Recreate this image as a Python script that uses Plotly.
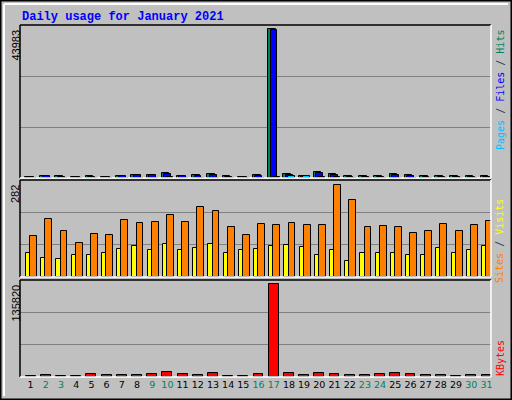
import plotly.graph_objects as go

days = list(range(1, 32))
weekend = [2, 3, 9, 10, 16, 17, 23, 24, 30, 31]

# values
hits = [300, 600, 600, 300, 600, 300, 600, 900, 900, 1500, 600, 900, 1200, 600, 300,
        900, 43983, 1200, 600, 1800, 1200, 600, 600, 600, 1200, 900, 600, 600, 600, 600, 600]
files = [200, 450, 350, 200, 400, 200, 450, 750, 750, 1200, 450, 700, 1000, 400, 200,
         700, 43800, 900, 450, 1500, 900, 400, 400, 400, 1000, 700, 400, 400, 400, 400, 400]
pages = [60, 100, 80, 60, 90, 60, 100, 120, 120, 150, 100, 110, 130, 80, 60,
         110, 400, 700, 600, 200, 150, 90, 90, 90, 130, 110, 90, 90, 90, 90, 90]
visits = [124, 176, 142, 103, 130, 127, 173, 164, 167, 188, 167, 213, 201, 152, 127,
          161, 158, 164, 158, 158, 282, 236, 152, 155, 152, 134, 140, 161, 142, 158, 170]
sites = [72, 59, 56, 68, 68, 74, 87, 96, 84, 102, 81, 90, 102, 72, 84,
         87, 96, 99, 93, 66, 81, 50, 72, 74, 74, 66, 68, 90, 74, 84, 96]
kbytes = [1500, 3000, 1500, 1500, 4500, 3000, 3000, 3000, 4500, 7500, 4500, 3000, 6000, 1500, 1500,
          4500, 135820, 6000, 3000, 6000, 4500, 3000, 3000, 4500, 6000, 4500, 3000, 3000, 1500, 3000, 3000]

def py(p):
    return 1 - p / 400

dom_top = [py(178), py(25)]
dom_mid = [py(277), py(180)]
dom_bot = [py(377), py(280)]

fig = go.Figure()
ol = dict(color="black", width=1)

def bars(vals, off, w, color, ax):
    fig.add_trace(go.Bar(x=[d + off for d in days], y=vals, width=w,
                         marker=dict(color=color, line=ol),
                         xaxis="x" + ax, yaxis="y" + ax, hoverinfo="y"))

bars(hits, -0.12, 0.5, "#00805c", "")
bars(files, 0.02, 0.45, "#0000ff", "")
bars(pages, 0.16, 0.45, "#00c0ff", "")
bars(sites, -0.15, 0.3, "#ffff00", "2")
bars(visits, 0.2, 0.45, "#ff8000", "2")
bars(kbytes, 0.0, 0.65, "#ff0000", "3")

R1 = 43983 * 153 / 149
R2 = 282 * 97 / 92.3
R3 = 135820 * 97 / 92.7

xr = [0.3, 31.3]
xd = [20 / 512, 491 / 512]
ax_common = dict(showgrid=False, zeroline=False, showline=False, fixedrange=True)
tick_text = ["<span style='color:%s'>%d</span>" % ("#00805c" if d in weekend else "black", d)
             for d in days]

fig.update_layout(
    width=512, height=400, margin=dict(l=0, r=0, t=0, b=0),
    paper_bgcolor="#c0c0c0", plot_bgcolor="#c0c0c0",
    barmode="overlay", showlegend=False, bargap=0,
    xaxis=dict(domain=xd, range=xr, anchor="y", showticklabels=False, **ax_common),
    xaxis2=dict(domain=xd, range=xr, anchor="y2", showticklabels=False, **ax_common),
    xaxis3=dict(domain=xd, range=xr, anchor="y3", tickvals=days, ticktext=tick_text,
                tickfont=dict(family="DejaVu Sans", size=9.5), ticks="", **ax_common),
    yaxis=dict(domain=dom_top, range=[0, R1], tickvals=[R1 / 3, 2 * R1 / 3], showticklabels=False,
               showgrid=True, gridcolor="#808080", zeroline=False, fixedrange=True),
    yaxis2=dict(domain=dom_mid, range=[0, R2], tickvals=[R2 / 3, 2 * R2 / 3], showticklabels=False,
                showgrid=True, gridcolor="#808080", zeroline=False, fixedrange=True),
    yaxis3=dict(domain=dom_bot, range=[0, R3], tickvals=[R3 / 3, 2 * R3 / 3], showticklabels=False,
                showgrid=True, gridcolor="#808080", zeroline=False, fixedrange=True),
)

shapes = []
# outer frame
shapes.append(dict(type="rect", xref="paper", yref="paper", x0=0.001, y0=0.001, x1=0.999, y1=0.999,
                   line=dict(color="black", width=2)))
shapes.append(dict(type="line", xref="paper", yref="paper", x0=4 / 512, y0=py(4), x1=4 / 512, y1=py(396),
                   line=dict(color="white", width=2)))
shapes.append(dict(type="line", xref="paper", yref="paper", x0=4 / 512, y0=py(4), x1=508 / 512, y1=py(4),
                   line=dict(color="white", width=2)))
# panel bevels
for d in (dom_top, dom_mid, dom_bot):
    x0, x1 = xd
    y0, y1 = d
    shapes.append(dict(type="line", xref="paper", yref="paper", x0=x0, y0=y1, x1=x1, y1=y1, line=dict(color="black", width=1.5)))
    shapes.append(dict(type="line", xref="paper", yref="paper", x0=x0, y0=y0, x1=x0, y1=y1, line=dict(color="black", width=1.5)))
    shapes.append(dict(type="line", xref="paper", yref="paper", x0=x0, y0=y0, x1=x1, y1=y0, line=dict(color="white", width=1.5)))
    shapes.append(dict(type="line", xref="paper", yref="paper", x0=x1, y0=y0, x1=x1, y1=y1, line=dict(color="white", width=1.5)))
fig.update_layout(shapes=shapes)

ann = []
ann.append(dict(text="<b>Daily usage for January 2021</b>", x=20 / 512, y=py(8), xanchor="left", yanchor="top",
                font=dict(family="Liberation Mono", size=12, color="#0000ff")))
for lab, top in (("43983", 28), ("282", 183), ("135820", 283)):
    ann.append(dict(text=lab, x=15 / 512, y=py(top), xanchor="center", yanchor="top", textangle=-90,
                    font=dict(family="Liberation Sans", size=11, color="black")))
mono = dict(family="DejaVu Sans Mono", size=10)
ann.append(dict(text="<span style='color:#00c0ff'>Pages</span> / <span style='color:#0000ff'>Files</span> / "
                     "<span style='color:#00805c'>Hits</span>",
                x=500 / 512, y=py(28), xanchor="center", yanchor="top", textangle=-90, font=mono))
ann.append(dict(text="<span style='color:#ff8000'>Sites</span> / <span style='color:#ffff00'>Visits</span>",
                x=500 / 512, y=py(197), xanchor="center", yanchor="top", textangle=-90, font=mono))
ann.append(dict(text="<span style='color:#ff0000'>KBytes</span>",
                x=500 / 512, y=py(338), xanchor="center", yanchor="top", textangle=-90, font=mono))
for a in ann:
    a.update(xref="paper", yref="paper", showarrow=False)
fig.update_layout(annotations=ann)

fig.write_html("out.html", config={"displayModeBar": False},
               post_script="document.body.style.margin='0';document.body.style.overflow='hidden';")
